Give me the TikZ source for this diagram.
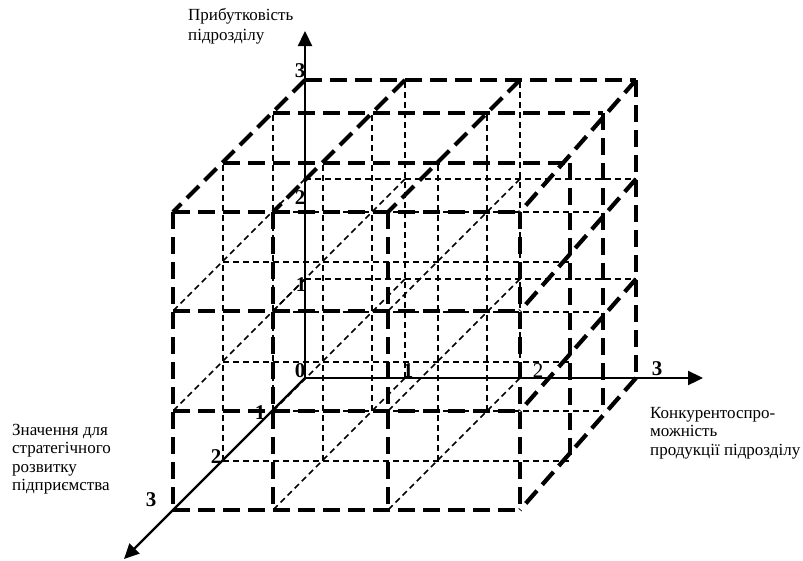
\documentclass[tikz,border=0pt]{standalone}
\usepackage{fontspec}
\setmainfont{Liberation Serif}
\usetikzlibrary{arrows.meta}
\begin{document}
\begin{tikzpicture}[x=1pt,y=-1pt,
  thinline/.style={line width=1.5pt, dash pattern=on 6pt off 4pt},
  boldline/.style={line width=4.2pt, dash pattern=on 17pt off 8pt},
  axis/.style={line width=2.3pt, -{Triangle[length=15pt,width=14pt]}},
  lbl/.style={font=\fontsize{17}{19}\selectfont, inner sep=0pt, anchor=base west},
  num/.style={font=\fontsize{21}{21}\selectfont\bfseries, inner sep=0pt},
  numr/.style={font=\fontsize{21}{21}\selectfont, inner sep=0pt},
]
\useasboundingbox (0,0) rectangle (803,560);
% grid points p<i><j><k>: i column, j row (0 bottom), k layer (0 back)
\foreach \k/\xs/\ys in {0/{305,405,520,636}/{378,279,179,80},
                        1/{273,372,487,603}/{411,312,212,113},
                        2/{223,323,438,570}/{461,362,262,163},
                        3/{173,273,388,520}/{510,411,311,212}}{
  \foreach \xx [count=\i from 0] in \xs {
    \foreach \yy [count=\j from 0] in \ys {
      \coordinate (p\i\j\k) at (\xx,\yy);
    }
  }
}
% thin inner lines
\foreach \k in {0,1,2}{
  \foreach \j in {0,1,2}{
    \ifnum\k\j>0 \draw[thinline] (p0\j\k) -- (p3\j\k); \fi
  }
  \foreach \i in {0,1,2}{
    \ifnum\k\i>0 \draw[thinline] (p\i0\k) -- (p\i3\k); \fi
  }
}
\foreach \i in {0,1,2}{
  \foreach \j in {0,1,2}{
    \ifnum\i\j>0 \draw[thinline] (p\i\j0) -- (p\i\j3); \fi
  }
}
% bold outer faces
\foreach \k in {0,1,2,3}{
  \draw[boldline] (p03\k) -- (p33\k);
  \draw[boldline] (p33\k) -- (p30\k);
}
\foreach \j in {0,1,2}{ \draw[boldline] (p0\j3) -- (p3\j3); }
\foreach \i in {0,1,2}{ \draw[boldline] (p\i33) -- (p\i03); }
\foreach \i in {0,1,2,3}{ \draw[boldline] (p\i30) -- (p\i33); }
\foreach \j in {0,1,2}{ \draw[boldline] (p3\j0) -- (p3\j3); }
% axes
\coordinate (ytip) at (305,31);
\coordinate (xtip) at (703,378);
\coordinate (ztip) at (124,559);
\draw[axis] (p000) -- (ytip);
\draw[axis] (p000) -- (xtip);
\draw[axis] (p000) -- (ztip);
% tick labels
\node[num] (y3) at (300,71) {3};
\node[num] (y2) at (300,198) {2};
\node[num] (y1) at (301,285) {1};
\node[num] (n0) at (300,371) {0};
\node[num] (x1) at (408,371) {1};
\node[numr] (x2) at (538,371) {2};
\node[num] (x3) at (657,369) {3};
\node[num] (z1) at (260,413) {1};
\node[num] (z2) at (216,457) {2};
\node[num] (z3) at (151,500) {3};
% axis titles
\node[lbl] (ya) at (188,20) {Прибутковість};
\node[lbl] (yb) at (188,40) {підрозділу};
\node[lbl] (za) at (12,435) {Значення для};
\node[lbl] (zb) at (12,453.5) {стратегічного};
\node[lbl] (zc) at (12,472) {розвитку};
\node[lbl] (zd) at (12,490.5) {підприємства};
\node[lbl] (xa) at (650,418) {Конкурентоспро-};
\node[lbl] (xb) at (650,436.5) {можність};
\node[lbl] (xc) at (650,455) {продукції підрозділу};
\end{tikzpicture}
\end{document}
